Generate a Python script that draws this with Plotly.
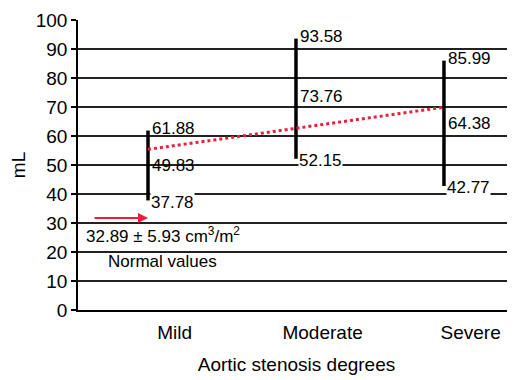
import numpy as np
import plotly.graph_objects as go

categories = ["Mild", "Moderate", "Severe"]
low_vals = [37.78, 52.15, 42.77]
mean_vals = [49.83, 73.76, 64.38]
high_vals = [61.88, 93.58, 85.99]
y_ticks = list(range(0, 101, 10))

xs = list(range(len(categories)))

# vertical range bars
bx, by = [], []
for i in xs:
    bx += [i, i, None]
    by += [low_vals[i], high_vals[i], None]

# linear trend of means
coef = np.polyfit(xs, mean_vals, 1)
trend_x = [xs[0], xs[-1]]
trend_y = list(np.polyval(coef, trend_x))

FONT = "Liberation Sans, Arial, sans-serif"

fig = go.Figure()
fig.add_trace(go.Scatter(x=bx, y=by, mode="lines",
                         line=dict(color="black", width=3.5),
                         hoverinfo="skip", showlegend=False))
fig.add_trace(go.Scatter(x=trend_x, y=trend_y, mode="lines",
                         line=dict(color="#e8203a", width=3, dash="dot"),
                         hoverinfo="skip", showlegend=False))

anns = []
for i in xs:
    anns.append(dict(x=i, y=high_vals[i], text=f"{high_vals[i]:.2f}", xanchor="left",
                     yanchor="middle", xshift=2, yshift=2, showarrow=False,
                     font=dict(size=17, color="black", family=FONT)))
    anns.append(dict(x=i, y=mean_vals[i], text=f"{mean_vals[i]:.2f}", xanchor="left",
                     yanchor="middle", xshift=2, yshift=0, showarrow=False,
                     font=dict(size=17, color="black", family=FONT)))
    anns.append(dict(x=i, y=low_vals[i], text=f"{low_vals[i]:.2f}", xanchor="left",
                     yanchor="middle", xshift=2, yshift=-2, showarrow=False,
                     bgcolor="white", borderpad=0,
                     font=dict(size=17, color="black", family=FONT)))

# normal values arrow and text
anns.append(dict(x=0, y=31.7, ax=-55, ay=0, text="", showarrow=True,
                 arrowhead=2, arrowsize=1, arrowwidth=2, arrowcolor="#e8203a",
                 standoff=0))
anns.append(dict(x=-0.43, y=26.0, text="32.89 ± 5.93 cm<sup>3</sup>/m<sup>2</sup>",
                 xanchor="left", yanchor="middle", showarrow=False,
                 font=dict(size=17, color="black", family=FONT)))
anns.append(dict(x=0.1, y=16.6, text="Normal values",
                 xanchor="center", yanchor="middle", showarrow=False,
                 font=dict(size=17, color="black", family=FONT)))

# the page body adds an 8px offset, so margins compensate for it
fig.update_layout(
    width=515, height=380,
    margin=dict(l=70, r=8, t=12, b=78),
    paper_bgcolor="white", plot_bgcolor="white",
    font=dict(family=FONT, color="black"),
    annotations=anns,
    xaxis=dict(range=[-0.473, 2.48], tickvals=[x + 0.18 for x in xs], ticktext=categories,
               ticks="outside", ticklen=4, tickcolor="rgba(0,0,0,0)",
               tickfont=dict(size=19), showgrid=False, zeroline=False,
               showline=True, linecolor="black", linewidth=1.5,
               title=dict(text="Aortic stenosis degrees", font=dict(size=19), standoff=16),
               automargin=False),
    yaxis=dict(range=[0, 100], tickvals=y_ticks, ticks="outside", ticklen=5,
               tickcolor="black", tickwidth=1.5, tickfont=dict(size=19),
               showgrid=True, gridcolor="#222222", gridwidth=1.5, zeroline=False,
               showline=True, linecolor="black", linewidth=1.5,
               title=dict(text="mL", font=dict(size=19), standoff=10),
               automargin=False),
)

fig.write_html("out.html")
